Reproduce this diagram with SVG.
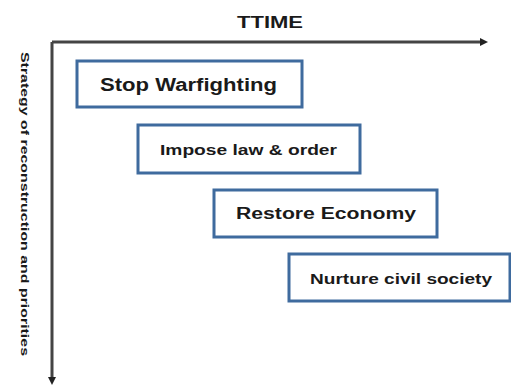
<svg xmlns="http://www.w3.org/2000/svg" width="511" height="392" viewBox="0 0 511 392">
<style>
.box{fill:#fff;stroke:#3f6b9e;stroke-width:3}
.lbl{font-family:"Liberation Sans",Arial,sans-serif;font-weight:bold;fill:#1a1a1a;text-anchor:middle}
.axis{stroke:#444;stroke-width:3;fill:none}
</style>
<defs>
<marker id="ah" markerWidth="8" markerHeight="8" refX="4" refY="4" orient="auto" markerUnits="userSpaceOnUse">
<path d="M0,0 L8,4 L0,8 Z" fill="#222"/>
</marker>
</defs>
<rect width="511" height="392" fill="#fff"/>
<text class="lbl" x="270" y="28" font-size="17" textLength="66" lengthAdjust="spacingAndGlyphs">TTIME</text>
<g id="connectors">
<path class="axis" d="M52,42 H484" marker-end="url(#ah)"/>
<path class="axis" d="M52,42 V381" marker-end="url(#ah)"/>
</g>
<text class="lbl" transform="translate(21,204) rotate(90)" font-size="10" textLength="304" lengthAdjust="spacingAndGlyphs" font-weight="normal">Strategy of reconstruction and priorities</text>
<g id="n1">
<rect class="box" x="77" y="61" width="225" height="46"/>
<text class="lbl" x="188.5" y="91" font-size="18" textLength="177" lengthAdjust="spacingAndGlyphs">Stop Warfighting</text>
</g>
<g id="n2">
<rect class="box" x="138" y="125" width="222" height="48"/>
<text class="lbl" x="248.5" y="155" font-size="15" textLength="177" lengthAdjust="spacingAndGlyphs">Impose law &amp; order</text>
</g>
<g id="n3">
<rect class="box" x="214" y="190" width="223" height="47"/>
<text class="lbl" x="326" y="219" font-size="16" textLength="180" lengthAdjust="spacingAndGlyphs">Restore Economy</text>
</g>
<g id="n4">
<rect class="box" x="289" y="254" width="221" height="47"/>
<text class="lbl" x="401" y="284" font-size="14" textLength="182" lengthAdjust="spacingAndGlyphs">Nurture civil society</text>
</g>
</svg>
